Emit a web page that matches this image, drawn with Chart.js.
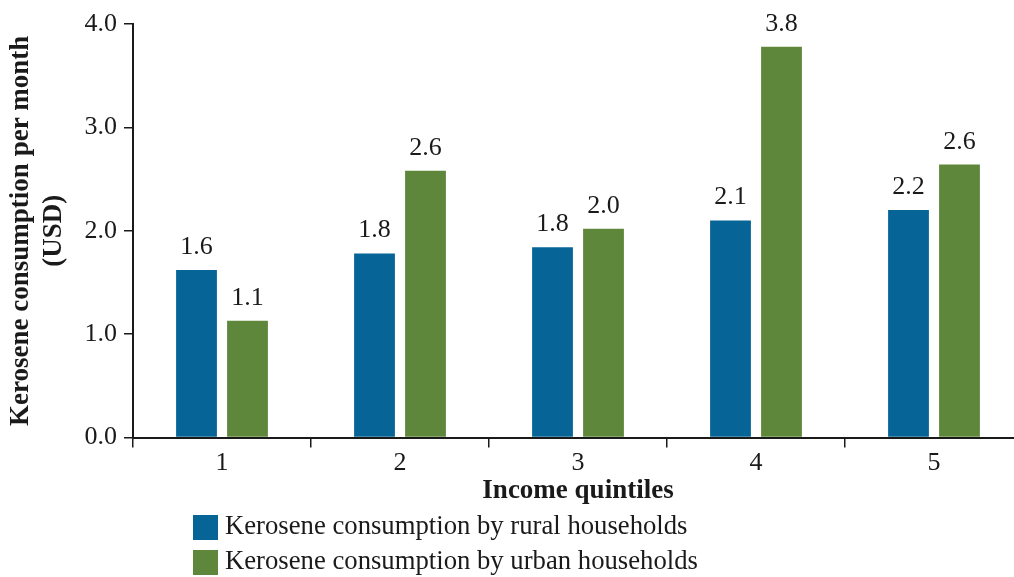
<!DOCTYPE html>
<html>
<head>
<meta charset="utf-8">
<script src="https://cdn.jsdelivr.net/npm/chart.js@4/dist/chart.umd.min.js"></script>
<style>
  html, body { margin: 0; padding: 0; background: #fff; overflow: hidden; }
  #wrap { position: relative; width: 1014px; height: 577px; overflow: hidden; }
  #box { position: absolute; left: 0; top: 0; width: 1023px; height: 577px; }
</style>
</head>
<body>
<div id="wrap"><div id="box"><canvas id="c"></canvas></div></div>
<script>
const categories = ['1', '2', '3', '4', '5'];
const ruralValues = [1.62, 1.78, 1.84, 2.10, 2.20];
const urbanValues = [1.13, 2.58, 2.02, 3.78, 2.64];
const seriesNames = ['Kerosene consumption by rural households', 'Kerosene consumption by urban households'];
const yTicks = [0, 1, 2, 3, 4];
const FONT = '"Liberation Serif", "DejaVu Serif", serif';
const TXT = '#1a1a1a';

const valueLabels = {
  id: 'valueLabels',
  afterDatasetsDraw(chart) {
    const ctx = chart.ctx;
    ctx.save();
    ctx.font = '26px ' + FONT;
    ctx.fillStyle = TXT;
    ctx.textAlign = 'center';
    ctx.textBaseline = 'alphabetic';
    chart.data.datasets.forEach((ds, i) => {
      chart.getDatasetMeta(i).data.forEach((bar, j) => {
        ctx.fillText(ds.data[j].toFixed(1), bar.x, bar.y - 16);
      });
    });
    ctx.restore();
  }
};

const customLegend = {
  id: 'customLegend',
  afterDraw(chart) {
    const ctx = chart.ctx;
    ctx.save();
    ctx.font = '26.7px ' + FONT;
    ctx.textBaseline = 'middle';
    ctx.textAlign = 'left';
    chart.data.datasets.forEach((ds, i) => {
      const y = 515 + i * 35;
      ctx.fillStyle = ds.backgroundColor;
      ctx.fillRect(193, y, 25, 25);
      ctx.fillStyle = TXT;
      ctx.fillText(ds.label, 225, y + 12);
    });
    ctx.restore();
  }
};

new Chart(document.getElementById('c'), {
  type: 'bar',
  data: {
    labels: categories,
    datasets: [
      { label: seriesNames[0], data: ruralValues, backgroundColor: '#066496' },
      { label: seriesNames[1], data: urbanValues, backgroundColor: '#5f873b' }
    ]
  },
  options: {
    responsive: true,
    maintainAspectRatio: false,
    animation: false,
    layout: { padding: { top: 24, right: 0, bottom: 0, left: 0 } },
    datasets: { bar: { categoryPercentage: 0.573, barPercentage: 0.8 } },
    plugins: { legend: { display: false }, tooltip: { enabled: false } },
    scales: {
      x: {
        afterFit(s) { s.height = 139.5; },
        grid: { display: true, drawOnChartArea: false, drawTicks: true, tickLength: 10, color: '#1a1a1a', lineWidth: 1.5 },
        border: { display: true, color: '#1a1a1a', width: 2 },
        ticks: { color: TXT, font: { family: FONT, size: 26 }, padding: 0 },
        title: { display: true, text: 'Income quintiles', color: TXT, font: { family: FONT, size: 27, weight: 'bold', lineHeight: 1.2 }, padding: { top: 0, bottom: 70 } }
      },
      y: {
        min: 0, max: 4,
        afterFit(s) { s.width = 133; },
        afterBuildTicks(s) { s.ticks = yTicks.map(v => ({ value: v })); },
        grid: { display: true, drawOnChartArea: false, drawTicks: true, tickLength: 9, color: '#1a1a1a', lineWidth: 1.5 },
        border: { display: true, color: '#1a1a1a', width: 2 },
        ticks: { color: TXT, font: { family: FONT, size: 26 }, padding: 7, callback: v => Number(v).toFixed(1) },
        title: { display: true, text: ['Kerosene consumption per month', '(USD)'], color: TXT, font: { family: FONT, size: 27, weight: 'bold', lineHeight: 1.2 }, padding: { top: 5, bottom: 0 } }
      }
    }
  },
  plugins: [valueLabels, customLegend]
});
</script>
</body>
</html>
